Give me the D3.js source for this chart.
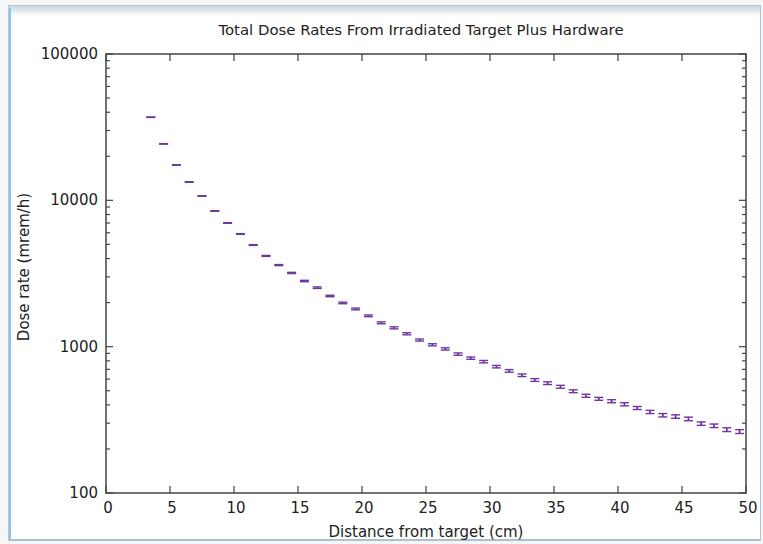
<!DOCTYPE html>
<html><head><meta charset="utf-8">
<script src="https://cdn.jsdelivr.net/npm/d3@7"></script>
<style>body{margin:0;background:#fff;}svg{display:block;}</style>
</head><body>
<svg id="c" width="763" height="544"></svg>
<script>
const distance = [3.5,4.5,5.5,6.5,7.5,8.5,9.5,10.5,11.5,12.5,13.5,14.5,15.5,16.5,17.5,18.5,19.5,20.5,21.5,22.5,23.5,24.5,25.5,26.5,27.5,28.5,29.5,30.5,31.5,32.5,33.5,34.5,35.5,36.5,37.5,38.5,39.5,40.5,41.5,42.5,43.5,44.5,45.5,46.5,47.5,48.5,49.5];
const doseRate = [37000,24300,17450,13350,10700,8460,7000,5890,4950,4170,3610,3190,2810,2530,2220,1990,1810,1625,1455,1345,1225,1110,1030,965,890,835,790,730,683,638,592,563,532,496,462,440,424,404,381,358,340,333,321,298,288,271,263];
const doseErr = [150,100,70,60,50,40,35,30,30,30,30,30,30,30,25,25,25,22,22,22,20,18,17,17,16,15,15,14,14,13,13,12,12,11,11,10,10,10,9,9,9,9,9,8,8,8,8];
const xTicks = [0,5,10,15,20,25,30,35,40,45,50];
const yTicks = [100,1000,10000,100000];
const title = "Total Dose Rates From Irradiated Target Plus Hardware";
const xLabel = "Distance from target (cm)";
const yLabel = "Dose rate (mrem/h)";

const svg = d3.select("#c");
const L = 106, R = 746, T = 54, B = 493;
const x = d3.scaleLinear().domain([0,50]).range([L,R]);
const y = d3.scaleLog().domain([100,100000]).range([B,T]);
const font = "DejaVu Sans, sans-serif";
const fs = 15;

// window frame
svg.append("rect").attr("x",0).attr("y",0).attr("width",763).attr("height",544).attr("fill","#f4f6f8");
const grad = svg.append("defs").append("linearGradient").attr("id","tg").attr("x1",0).attr("y1",0).attr("x2",0).attr("y2",1);
grad.append("stop").attr("offset","0").attr("stop-color","#c9d6e0");
grad.append("stop").attr("offset","1").attr("stop-color","#ffffff");
svg.append("rect").attr("x",8.5).attr("y",5.5).attr("width",752).attr("height",535).attr("fill","#fff").attr("stroke","#b4c6d6").attr("stroke-width",1);
svg.append("rect").attr("x",9).attr("y",6).attr("width",751).attr("height",10).attr("fill","url(#tg)");
svg.append("line").attr("x1",10).attr("x2",10).attr("y1",8).attr("y2",540).attr("stroke","#8cc4ec").attr("stroke-width",2);
svg.append("line").attr("x1",9).attr("x2",760).attr("y1",540).attr("y2",540).attr("stroke","#a9bfd2").attr("stroke-width",2);

// title and labels
svg.append("text").attr("x",421).attr("y",35).attr("text-anchor","middle").attr("font-family",font).attr("font-size",14.9).attr("fill","#222").text(title);
svg.append("text").attr("x",426).attr("y",537).attr("text-anchor","middle").attr("font-family",font).attr("font-size",fs).attr("fill","#222").text(xLabel);
svg.append("text").attr("transform","translate(29,267) rotate(-90)").attr("text-anchor","middle").attr("font-family",font).attr("font-size",fs).attr("fill","#222").text(yLabel);

const axCol = "#444";
const g = svg.append("g");
xTicks.forEach(t=>{
  g.append("line").attr("x1",x(t)).attr("x2",x(t)).attr("y1",B).attr("y2",B-7).attr("stroke",axCol).attr("stroke-width",1.2);
  g.append("line").attr("x1",x(t)).attr("x2",x(t)).attr("y1",T).attr("y2",T+7).attr("stroke",axCol).attr("stroke-width",1.2);
  g.append("text").attr("x",x(t)+2).attr("y",B+20).attr("text-anchor","middle").attr("font-family",font).attr("font-size",fs).attr("fill","#222").text(t);
});
yTicks.forEach((t,i)=>{
  g.append("line").attr("x1",L).attr("x2",L+7).attr("y1",y(t)).attr("y2",y(t)).attr("stroke",axCol).attr("stroke-width",1.2);
  g.append("line").attr("x1",R).attr("x2",R-7).attr("y1",y(t)).attr("y2",y(t)).attr("stroke",axCol).attr("stroke-width",1.2);
  g.append("text").attr("x",L-8).attr("y",y(t)+5).attr("text-anchor","end").attr("font-family",font).attr("font-size",fs).attr("fill","#222").text(t);
  if (i < yTicks.length-1) {
    for (let m=2;m<=9;m++){
      const v = t*m;
      g.append("line").attr("x1",L).attr("x2",L+4).attr("y1",y(v)).attr("y2",y(v)).attr("stroke",axCol).attr("stroke-width",1.2);
      g.append("line").attr("x1",R).attr("x2",R-4).attr("y1",y(v)).attr("y2",y(v)).attr("stroke",axCol).attr("stroke-width",1.2);
    }
  }
});
g.append("rect").attr("x",L).attr("y",T).attr("width",R-L).attr("height",B-T).attr("fill","none").attr("stroke",axCol).attr("stroke-width",1.5);

// error bars
const eb = svg.append("g");
distance.forEach((d,i)=>{
  const cx = x(d), y1 = y(doseRate[i]-doseErr[i]), y2 = y(doseRate[i]+doseErr[i]);
  eb.append("line").attr("x1",cx).attr("x2",cx).attr("y1",y1).attr("y2",y2).attr("stroke","#9400d3").attr("stroke-width",1.6);
  eb.append("line").attr("x1",cx-4.5).attr("x2",cx+4.5).attr("y1",y1).attr("y2",y1).attr("stroke","#6a3a9a").attr("stroke-width",1.4);
  eb.append("line").attr("x1",cx-4.5).attr("x2",cx+4.5).attr("y1",y2).attr("y2",y2).attr("stroke","#6a3a9a").attr("stroke-width",1.4);
});
</script>
</body></html>
